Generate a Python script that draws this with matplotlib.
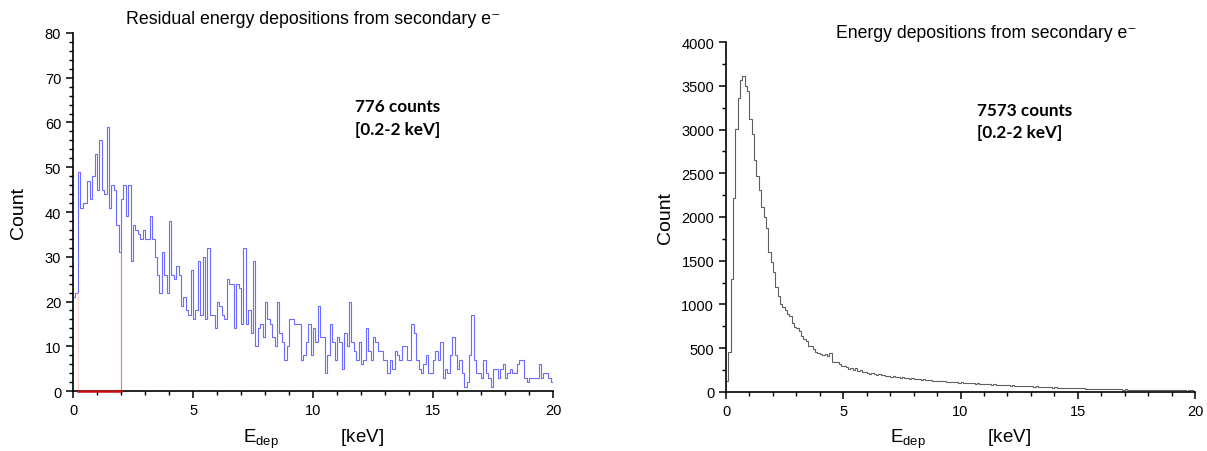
import numpy as np
import matplotlib
matplotlib.use("Agg")
import matplotlib.pyplot as plt
from matplotlib.ticker import MultipleLocator

plt.rcParams['font.family'] = ['Liberation Sans', 'DejaVu Sans']
plt.rcParams['mathtext.fontset'] = 'custom'
plt.rcParams['mathtext.rm'] = 'Liberation Sans'
plt.rcParams['mathtext.it'] = 'Liberation Sans'

# bin edges: 0.1 keV bins from 0 to 20 keV
e_min, e_max, n_bins = 0.0, 20.0, 200

# residual deposits (left)
residual_counts = [
    21, 22, 49, 41, 42, 42, 47, 43, 48, 53, 45, 56, 45, 44, 59, 41, 46, 45, 37, 31,
    43, 46, 39, 46, 29, 37, 36, 35, 34, 36, 34, 34, 39, 34, 30, 26, 22, 31, 26, 22,
    38, 26, 25, 28, 26, 19, 21, 18, 17, 27,
    16, 18, 29, 17, 30, 16, 32, 17, 17, 14, 20, 19, 17, 16, 25, 24, 24, 14, 24, 23,
    15, 32, 15, 18, 13, 29, 10, 14, 15, 12, 20, 16, 15, 12, 10, 20, 13, 11, 7, 10,
    16, 16, 15, 15, 15, 7, 8, 11, 15, 8, 14, 11, 19,
    12, 12, 4, 8, 15, 11, 7, 12, 11, 5, 13, 10, 20, 11, 9, 7, 11, 6, 7, 14,
    9, 7, 12, 11, 9, 9, 7, 7, 4, 7, 5, 9, 8, 7, 10, 10, 7, 7, 15, 13,
    7, 5, 4, 6, 8, 4,
    4, 7, 9, 7, 11, 3, 5, 4, 8, 12, 8, 5, 7, 4, 1, 2, 8, 17, 7, 4,
    4, 3, 7, 4, 3, 1, 5, 5, 3, 5, 6, 3, 4, 5, 4, 4, 6, 7, 7, 3,
    2, 3, 3, 3, 3, 6, 3, 4, 4, 3, 2,
]

# all deposits (right)
total_counts = [
    122, 454, 1290, 2218, 3008, 3359, 3573, 3611, 3504, 3443,
    3122, 2947, 2657, 2466, 2305, 2111, 1996, 1874, 1595, 1481,
    1375, 1195, 1100, 1000, 975, 930, 889, 863, 786, 744,
    725, 699, 641, 603, 584, 527, 519, 489, 450, 443,
    431, 420, 431, 412, 443, 343, 343, 336, 317, 298,
    298, 279, 260, 267, 252, 267, 240, 252, 229, 221,
    214, 208, 215, 200, 196, 203, 188, 192, 180, 176,
    172, 178, 165, 168, 160, 163, 155, 158, 150, 154,
    146, 150, 142, 138, 145, 135, 131, 136, 128, 124,
    127, 120, 118, 122, 114, 110, 115, 108, 111, 105,
    107, 102, 98, 101, 95, 97, 92, 94, 88, 90,
    86, 89, 84, 80, 83, 78, 81, 75, 77, 72,
    74, 70, 72, 67, 69, 65, 68, 62, 64, 60,
    61, 58, 60, 55, 57, 53, 55, 50, 52, 48,
    50, 46, 48, 44, 45, 42, 44, 40, 41, 38,
    40, 37, 38, 35, 36, 34, 35, 32, 33, 30,
    32, 29, 31, 28, 29, 27, 28, 26, 27, 25,
    26, 24, 25, 23, 24, 22, 23, 21, 22, 20,
    21, 19, 20, 18, 19, 17, 18, 17, 16, 18,
    16, 15, 17, 14, 15, 16, 13, 15, 14, 12,
]

roi = (0.2, 2.0)
left_title = "Residual energy depositions from secondary e\u207b"
right_title = "Energy depositions from secondary e\u207b"
left_note = "776 counts\n[0.2-2 keV]"
right_note = "7573 counts\n[0.2-2 keV]"

edges = np.linspace(e_min, e_max, n_bins + 1)
residual_counts = np.array(residual_counts)
total_counts = np.array(total_counts)

fig = plt.figure(figsize=(12.07, 4.52), dpi=100)
ax1 = fig.add_axes([0.0605, 0.1327, 0.3977, 0.7921])
ax2 = fig.add_axes([0.6015, 0.1312, 0.3886, 0.7730])


def style(ax, ypad):
    for s in ['top', 'right']:
        ax.spines[s].set_visible(False)
    for s in ['left', 'bottom']:
        ax.spines[s].set_linewidth(1.2)
    ax.tick_params(which='major', direction='out', length=5, width=1.1, labelsize=10.5)
    ax.tick_params(which='minor', direction='out', length=3, width=1.0)
    ax.xaxis.set_major_locator(MultipleLocator(5))
    ax.xaxis.set_minor_locator(MultipleLocator(1))
    ax.set_xlim(e_min, e_max)
    ax.set_xlabel(r'E$_{\mathregular{dep}}$            [keV]', fontsize=13.5, labelpad=7)
    ax.set_ylabel('Count', fontsize=14, labelpad=ypad)


# left panel
ax1.stairs(residual_counts, edges, baseline=None, color='#6b6bff', lw=0.8)
i0 = int(round(roi[0] / 0.1))
i1 = int(round(roi[1] / 0.1)) - 1
ax1.plot([roi[0], roi[1]], [0, 0], color='#c81010', lw=1.8, clip_on=False, zorder=3)
ax1.plot([roi[1], roi[1]], [0, residual_counts[i1]], color='#ff7070', lw=0.8)
ax1.plot([roi[0], roi[0]], [0, residual_counts[i0 - 1]], color='#ffd8d8', lw=0.8)
ax1.set_ylim(0, 80)
ax1.yaxis.set_major_locator(MultipleLocator(10))
ax1.yaxis.set_minor_locator(MultipleLocator(2))
style(ax1, 13)
ax1.set_title(left_title, fontsize=12.8, pad=7)
ax1.text(11.75, 65.4, left_note, fontsize=12.3, fontweight='bold', family=['Lato', 'DejaVu Sans'],
         va='top', linespacing=1.5)

# right panel
ax2.stairs(total_counts, edges, baseline=None, color='#5e5e5e', lw=0.8)
ax2.set_ylim(0, 4000)
ax2.yaxis.set_major_locator(MultipleLocator(500))
ax2.yaxis.set_minor_locator(MultipleLocator(250))
style(ax2, 5)
ax2.text(0.555, 1.028, right_title, transform=ax2.transAxes, fontsize=12.7, ha='center', va='center')
ax2.text(10.7, 3320, right_note, fontsize=12.3, fontweight='bold', family=['Lato', 'DejaVu Sans'],
         va='top', linespacing=1.5)

fig.savefig('out.png', dpi=100)
